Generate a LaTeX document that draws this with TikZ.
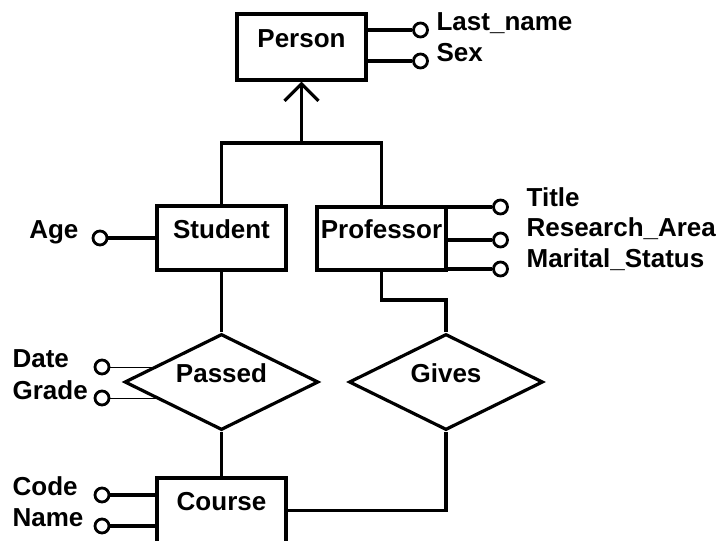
\documentclass[tikz,border=0pt]{standalone}
\usepackage{fontspec}
\setmainfont{Liberation Sans}
\usetikzlibrary{shapes.geometric,arrows.meta,backgrounds}
\begin{document}
\begin{tikzpicture}[x=1pt,y=-1pt,
  line width=3.2pt,
  font=\fontsize{26}{31}\selectfont\bfseries,
  entity/.style={draw, rectangle, minimum width=129pt, inner xsep=0pt, inner ysep=0pt,
    text height=9pt, text depth=9pt},
  relation/.style={draw, diamond, fill=white, aspect=2, inner sep=0pt,
    minimum width=194pt, minimum height=96pt, text height=9pt, text depth=9pt},
  attr/.style={draw, circle, fill=white, inner sep=0pt, minimum size=14pt, line width=2.8pt},
  lbl/.style={inner sep=0pt},
  isa/.style={-{Straight Barb[length=17pt,width=34pt]}},
]
\useasboundingbox (0,0) rectangle (726,541);
\clip (0,0) rectangle (726,541);

% entities
\node[entity, minimum height=66pt] (person)  at (301.5,47)    {Person};
\node[entity, minimum height=64pt] (student) at (221.5,238)   {Student};
\node[entity, minimum height=63pt] (prof)    at (381.5,238.5) {Professor};
\node[entity, minimum height=65pt] (course)  at (221.5,510.5) {Course};

% relationships
\node[relation] (passed) at (221.5,382) {Passed};
\node[relation] (gives)  at (446,382)   {Gives};

% attribute circles
\node[attr] (lastc)  at (420.5,30)  {};
\node[attr] (sexc)   at (420.5,61)  {};
\node[attr] (agec)   at (100,238)   {};
\node[attr] (titlec) at (500.5,207) {};
\node[attr] (resc)   at (500.5,240) {};
\node[attr] (marc)   at (500.5,269) {};
\node[attr] (datec)  at (102,367)   {};
\node[attr] (gradec) at (102,398)   {};
\node[attr] (codec)  at (102,495)   {};
\node[attr] (namec)  at (102,526)   {};

% attribute names
\node[lbl, anchor=base west] (lastl)  at (435,30)  {Last\_name};
\node[lbl, anchor=base west] (sexl)   at (435,61)  {Sex};
\node[lbl, anchor=base east] (agel)   at (80,238)  {Age};
\node[lbl, anchor=base west] (titlel) at (525,206) {Title};
\node[lbl, anchor=base west] (resl)   at (525,236) {Research\_Area};
\node[lbl, anchor=base west] (marl)   at (525,267) {Marital\_Status};
\node[lbl, anchor=base west] (datel)  at (11,367)  {Date};
\node[lbl, anchor=base west] (gradel) at (11,399)  {Grade};
\node[lbl, anchor=base west] (codel)  at (11,495)  {Code};
\node[lbl, anchor=base west] (namel)  at (11,526)  {Name};

% junction points
\coordinate (split)    at (301.5,143);
\coordinate (profbend) at (381.5,300);

% attribute links
\draw (lastc)  -- (lastc -| person.east);
\draw (sexc)   -- (sexc -| person.east);
\draw (agec)   -- (agec -| student.west);
\draw (titlec) -- (titlec -| prof.east);
\draw (resc)   -- (resc -| prof.east);
\draw (marc)   -- (marc -| prof.east);
\draw (codec)  -- (codec -| course.west);
\draw (namec)  -- (namec -| course.west);
\begin{scope}[on background layer]
  \draw (datec)  -- (datec -| passed.center);
  \draw (gradec) -- (gradec -| passed.center);
\end{scope}

% generalisation
\draw (student.north) |- (split) -| (prof.north);
\draw[isa] (split) -- (person.south);

% relationship links
\draw (student) -- (passed);
\draw (passed) -- (course);
\draw (prof.south) -- (profbend) -| (gives.north);
\draw (course.east) -| (gives.south);
\end{tikzpicture}
\end{document}
